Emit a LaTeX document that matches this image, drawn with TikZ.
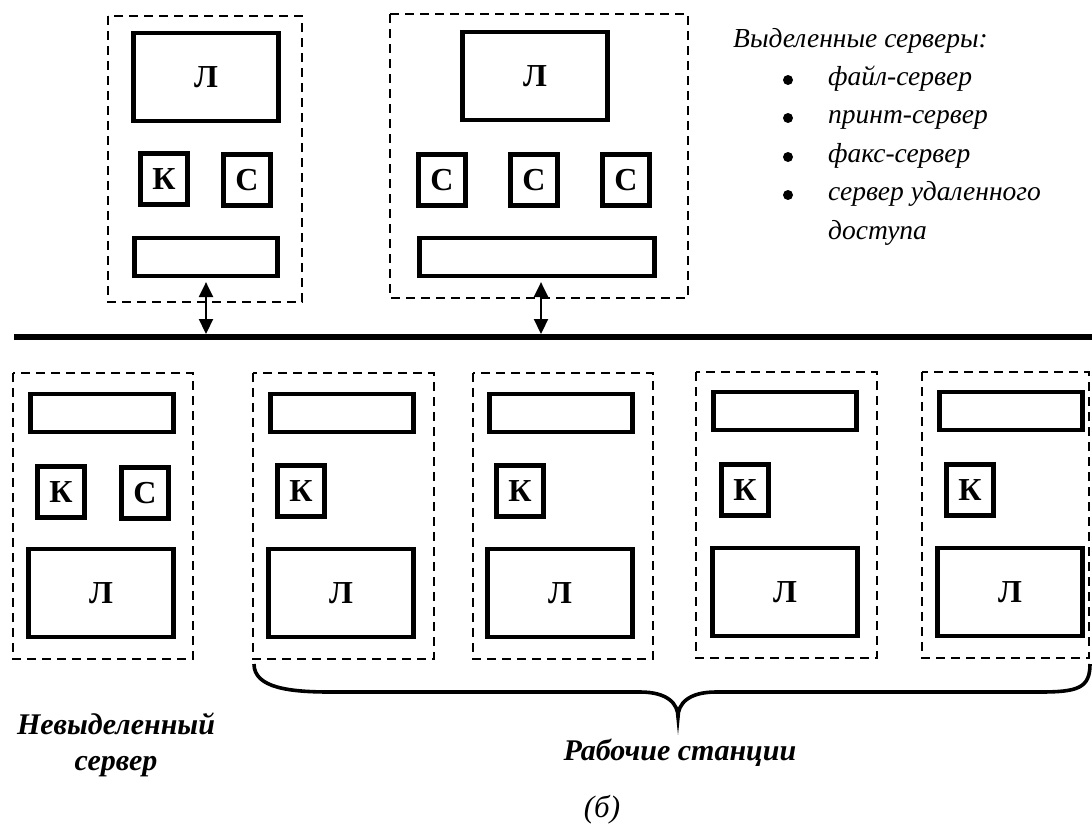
\documentclass[tikz,border=0pt]{standalone}
\usepackage{fontspec}
\setmainfont{Liberation Serif}
\usetikzlibrary{arrows.meta}

\tikzset{
  unit/.style={draw, line width=4.2pt, inner sep=0pt, font=\bfseries\fontsize{32}{36}\selectfont},
  disp/.style={minimum width=145pt, minimum height=88pt},
  small/.style={minimum width=47pt, minimum height=51pt},
  nic/.style={minimum width=143pt, minimum height=38pt},
  hostbox/.style={line width=2.8pt, dash pattern=on 9pt off 6pt},
  link/.style={line width=2.2pt, {Triangle[length=15pt,width=14pt]}-{Triangle[length=15pt,width=14pt]}},
  note/.style={font=\itshape\fontsize{27.5}{32}\selectfont, anchor=base west, inner sep=0pt},
  dot/.style={circle, fill, inner sep=0pt, minimum size=10pt},
  caption/.style={font=\bfseries\itshape\fontsize{30}{36}\selectfont, align=center, inner sep=0pt}
}

\begin{document}
\begin{tikzpicture}[x=1pt, y=-1pt]
    \useasboundingbox (0,0) rectangle (1092,827);

    % dedicated servers
    \draw [hostbox] (108,16) rectangle (302,302);
    \node [unit, disp] (srvA-l) at (206,77) {Л};
    \node [unit, small] (srvA-k) at (164,179) {К};
    \node [unit, small] (srvA-c) at (247,180) {С};
    \node [unit, nic] (srvA-n) at (206,257) {};

    \draw [hostbox] (390,14) rectangle (688,298);
    \node [unit, disp] (srvB-l) at (535,76) {Л};
    \node [unit, small] (srvB-c1) at (442,180) {С};
    \node [unit, small] (srvB-c2) at (534,180) {С};
    \node [unit, small] (srvB-c3) at (626,180) {С};
    \node [unit, nic, minimum width=235pt] (srvB-n) at (537,257) {};

    % bus
    \draw [line width=5.5pt] (14,337) -- (1092,337);
    \coordinate (tapA) at (206,334);
    \coordinate (tapB) at (541,334);
    \draw [link] ([yshift=-4pt]srvA-n.south -| tapA) -- (tapA);
    \draw [link] ([yshift=-4pt]srvB-n.south -| tapB) -- (tapB);

    % non-dedicated server
    \draw [hostbox] (13,373) rectangle (193,659);
    \node [unit, nic] (nds-n) at (102,413) {};
    \node [unit, small] (nds-k) at (61,492) {К};
    \node [unit, small] (nds-c) at (145,493) {С};
    \node [unit, disp] (nds-l) at (101,593) {Л};

    % workstations
    \draw [hostbox] (253,373) rectangle (434,659);
    \node [unit, nic] (ws1-n) at (342,413) {};
    \node [unit, small] (ws1-k) at (301,491) {К};
    \node [unit, disp] (ws1-l) at (341,593) {Л};

    \draw [hostbox] (473,373) rectangle (653,659);
    \node [unit, nic] (ws2-n) at (561,413) {};
    \node [unit, small] (ws2-k) at (520,491) {К};
    \node [unit, disp] (ws2-l) at (560,593) {Л};

    \draw [hostbox] (696,372) rectangle (877,658);
    \node [unit, nic] (ws3-n) at (785,411) {};
    \node [unit, small] (ws3-k) at (745,490) {К};
    \node [unit, disp] (ws3-l) at (785,592) {Л};

    \draw [hostbox] (922,372) rectangle (1089,658);
    \node [unit, nic] (ws4-n) at (1011,411) {};
    \node [unit, small] (ws4-k) at (970,490) {К};
    \node [unit, disp] (ws4-l) at (1010,592) {Л};

    % brace under the workstations
    \draw [line width=3.6pt] (254,664) .. controls (254,688) and (290,692) .. (330,692) -- (640,692)
        .. controls (668,692) and (678,704) .. (678,717)
        .. controls (678,704) and (688,692) .. (716,692) -- (1040,692)
        .. controls (1078,692) and (1090,688) .. (1090,664);

    % labels
    \node [caption] (ndsLabel) at (116,745) {Невыделенный\\сервер};
    \node [caption, anchor=base] (wsLabel) at (680,760) {Рабочие станции};
    \node [font=\itshape\fontsize{31}{34}\selectfont] (figLabel) at (602,810) {(б)};

    \node [note] (dsTitle) at (733,47) {Выделенные серверы:};
    \node [dot] (b1) at (788,80) {};
    \node [dot] (b2) at (788,118) {};
    \node [dot] (b3) at (788,157) {};
    \node [dot] (b4) at (788,195) {};
    \node [note] (ds1) at (828,85) {файл-сервер};
    \node [note] (ds2) at (828,123) {принт-сервер};
    \node [note] (ds3) at (828,162) {факс-сервер};
    \node [note] (ds4) at (828,200) {сервер удаленного};
    \node [note] (ds5) at (828,239) {доступа};
\end{tikzpicture}
\end{document}
